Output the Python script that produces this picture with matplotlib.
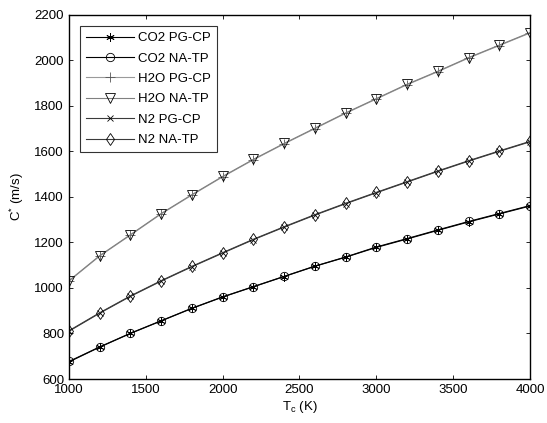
import matplotlib
matplotlib.use("Agg")
import matplotlib.pyplot as plt

plt.rcParams['font.family'] = ['Liberation Sans', 'DejaVu Sans']

Tc = [1000, 1200, 1400, 1600, 1800, 2000, 2200, 2400, 2600, 2800, 3000, 3200, 3400, 3600, 3800, 4000]

co2_pg = [675, 740, 800, 855, 910, 960, 1005, 1050, 1095, 1135, 1178, 1215, 1253, 1290, 1325, 1360]
co2_na = [677, 741, 801, 856, 911, 961, 1006, 1051, 1096, 1136, 1180, 1217, 1255, 1292, 1327, 1362]
h2o_pg = [1030, 1140, 1232, 1325, 1408, 1488, 1563, 1633, 1700, 1767, 1830, 1893, 1950, 2010, 2065, 2120]
h2o_na = [1032, 1142, 1234, 1327, 1410, 1490, 1565, 1635, 1702, 1769, 1832, 1895, 1952, 2012, 2067, 2122]
n2_pg = [810, 889, 963, 1030, 1093, 1153, 1212, 1267, 1320, 1370, 1418, 1465, 1512, 1557, 1600, 1642]
n2_na = [812, 891, 965, 1032, 1095, 1155, 1214, 1269, 1322, 1372, 1420, 1467, 1514, 1559, 1602, 1644]

labels = ['CO2 PG-CP', 'CO2 NA-TP', 'H2O PG-CP', 'H2O NA-TP', 'N2 PG-CP', 'N2 NA-TP']
series = [co2_pg, co2_na, h2o_pg, h2o_na, n2_pg, n2_na]
markers = [(6, 2, 0), 'o', '+', 'v', 'x', 'd']
sizes = [6, 6, 7, 6.5, 4.5, 6]
colors = ['black', 'black', '#9a9a9a', '#808080', '#3a3a3a', '#3a3a3a']
mecs = ['black', 'black', '#555555', 'black', 'black', 'black']

fig = plt.figure(figsize=(5.47, 4.23), dpi=100)
ax = fig.add_axes([0.126, 0.104, 0.843, 0.861])

for y, lab, m, ms, c, mc in zip(series, labels, markers, sizes, colors, mecs):
    ax.plot(Tc, y, color=c, lw=0.8, marker=m, markersize=ms, mfc='none',
            mec=mc, mew=0.6, label=lab)

ax.set_xlim(1000, 4000)
ax.set_ylim(600, 2200)
ax.set_xticks(range(1000, 4001, 500))
ax.set_yticks(range(600, 2201, 200))
ax.tick_params(direction='in', top=True, right=True, length=3, width=0.6, labelsize=9.5)
for s in ax.spines.values():
    s.set_linewidth(1.0)
ax.set_xlabel('T$_\\mathregular{c}$ (K)', fontsize=9.5, labelpad=2)
ax.set_ylabel('C$^\\mathregular{*}$ (m/s)', fontsize=9.5, labelpad=6)

leg = ax.legend(loc='upper left', fontsize=9.5, frameon=True, fancybox=False,
                edgecolor='black', handlelength=3.6, borderaxespad=0.85,
                labelspacing=0.62, handletextpad=0.35, borderpad=0.45)
leg.get_frame().set_linewidth(0.8)

fig.savefig('out.png', dpi=100)
